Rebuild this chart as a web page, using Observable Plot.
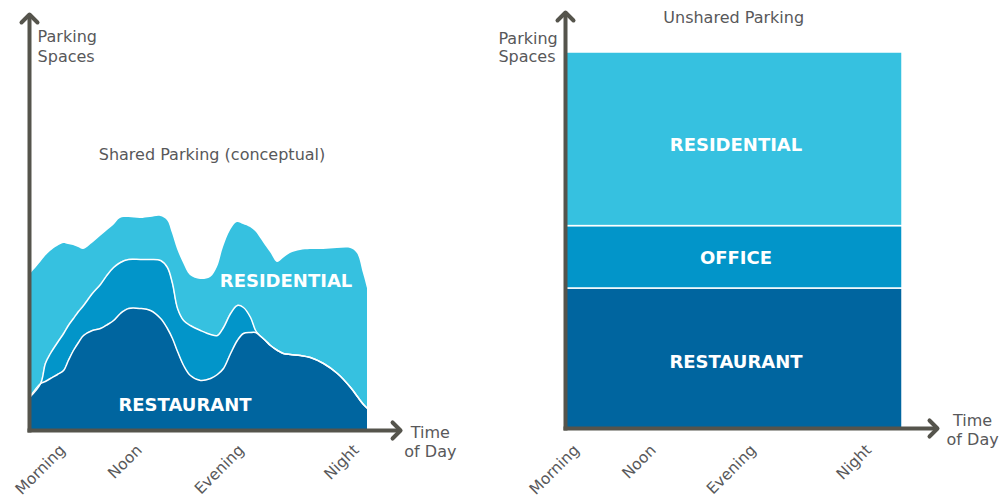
<!DOCTYPE html>
<html><head><meta charset="utf-8">
<script src="https://cdn.jsdelivr.net/npm/d3@7"></script>
<script src="https://cdn.jsdelivr.net/npm/@observablehq/plot@0.6"></script>
<style>
body{margin:0;background:#fff;}
#wrap{display:flex;width:999px;height:499px;overflow:hidden;}
</style></head><body><div id="wrap"></div>
<script>
const uses = ["Restaurant", "Office", "Residential"];
const useColors = ["#00659f", "#0295c9", "#36c1e0"];

// Shared parking (conceptual): time index 0..100, spaces per use
const times = [0, 3.3, 4.7, 6.2, 8.3, 10.1, 11.5, 13.0, 14.5, 16.0, 18.6, 21.0, 23.1, 24.9, 26.9, 29.3, 32.8, 35.8, 38.8, 40.8, 42.3, 43.8, 45.6, 47.6, 50.6, 53.6, 55.6, 57.4, 59.5, 61.5, 63.3, 65.4, 66.9, 67.8, 69.8, 71.3, 73.4, 75.1, 77.2, 80.2, 83.1, 87.0, 91.1, 95.0, 97.0, 98.8, 100];
const restaurant = [8.25, 11.75, 12.25, 13, 14, 15, 17.5, 20, 22, 23.75, 25, 25.5, 26.5, 27.5, 29.25, 30.5, 30.5, 30, 28, 25.5, 23, 19.75, 16.25, 13.75, 12.5, 13, 14, 15.5, 19.25, 22.5, 24.25, 24.5, 24.5, 24, 22.5, 21.25, 20, 19.25, 19, 18.75, 18.25, 16.75, 14.25, 10.75, 8.5, 6.5, 5.5];
const office = [0, 0, 4.5, 6.25, 8, 9.25, 8.75, 8, 7.75, 7.5, 9.25, 11, 12.5, 13.25, 12.75, 12.25, 12.25, 12.75, 14.5, 15.25, 13.75, 10.75, 11.25, 12.5, 12.5, 11, 9.75, 10.25, 10, 8.75, 6.5, 3.75, 0.5, 0, 0, 0, 0, 0, 0, 0, 0, 0, 0, 0, 0, 0, 0];
const residential = [30.5, 30.25, 26.75, 25.5, 24, 22.5, 20.25, 18.25, 16, 14, 12.5, 12, 11, 10.5, 11, 10.5, 10.25, 10.5, 11, 11.75, 12.5, 14.75, 14.25, 12.5, 12.75, 14.25, 17, 20, 20.75, 20.75, 20.75, 22.5, 24.75, 24.75, 23.75, 23.25, 22, 23.75, 25.25, 26.25, 27, 28.5, 31.25, 34.75, 35.75, 32.75, 30];

// Unshared parking: constant spaces per use, and label heights
const unsharedSpaces = [35, 15.6, 43.4];
const unsharedLabelY = [16.5, 42.5, 70.75];

// Tick labels
const timeTicks = ["Morning", "Noon", "Evening", "Night"];
const sharedTickPos = [9.8, 32.5, 62.7, 96.7];
const unsharedTickPos = [3.3, 26.1, 55.8, 90];

// Axis arrows (data units): origin -> end
const sharedAxes = [[[0, 0], [0, 103]], [[0, 0], [108.6, 0]]];
const unsharedAxes = [[[0, 0], [0, 103]], [[0, 0], [109.2, 0]]];

const shared = [];
[restaurant, office, residential].forEach((arr, i) =>
  arr.forEach((v, j) => shared.push({use: uses[i], time: times[j], spaces: v})));
const unshared = uses.map((u, i) => ({use: u, spaces: unsharedSpaces[i], labelY: unsharedLabelY[i]}));

const gray = "#58585a";
const axisColor = "#55544c";
const style = {fontFamily: "DejaVu Sans", fontSize: "16px", background: "white"};
const axisMarks = (axes) => axes.map(seg => Plot.line(seg, {stroke: axisColor, strokeWidth: 4, markerEnd: "arrow", strokeLinecap: "square"}));

const left = Plot.plot({
  width: 490, height: 499,
  marginLeft: 29, marginRight: 123, marginTop: 30, marginBottom: 69,
  style,
  x: {domain: [0, 100], axis: null},
  y: {domain: [0, 100], axis: null},
  color: {domain: uses, range: useColors},
  marks: [
    Plot.areaY(shared, {x: "time", y: "spaces", z: "use", fill: "use", curve: "catmull-rom"}),
    Plot.lineY(shared.filter(d => d.use !== "Residential"),
      Plot.stackY2({x: "time", y: "spaces", z: "use", stroke: "white", strokeWidth: 1.5, curve: "catmull-rom"})),
    ...axisMarks(sharedAxes),
    Plot.text(["Parking\nSpaces"], {x: 2.4, y: 96.25, text: d => d, textAnchor: "start", lineHeight: 1.22, fill: gray, fontSize: 16}),
    Plot.text(["Shared Parking (conceptual)"], {x: 54, y: 69, text: d => d, fill: gray, fontSize: 16}),
    Plot.text(["Time\nof Day"], {x: 118.6, y: 0, dy: 11, text: d => d, lineHeight: 1.15, fill: gray, fontSize: 16}),
    Plot.text(timeTicks, {x: (d, i) => sharedTickPos[i], y: 0, dy: 17, text: d => d, rotate: -45, textAnchor: "end", fill: gray, fontSize: 15.5}),
    Plot.text(["RESIDENTIAL"], {x: 75.9, y: 37.25, text: d => d, fill: "white", fontWeight: "bold", fontSize: 18}),
    Plot.text(["RESTAURANT"], {x: 46, y: 6.25, text: d => d, fill: "white", fontWeight: "bold", fontSize: 18})
  ]
});

const right = Plot.plot({
  width: 509, height: 499,
  marginLeft: 75, marginRight: 97, marginTop: 28, marginBottom: 71,
  style,
  x: {domain: [0, 100], axis: null},
  y: {domain: [0, 100], axis: null},
  color: {domain: uses, range: useColors},
  marks: [
    Plot.rectY(unshared, Plot.stackY({x1: 0, x2: 100, y: "spaces", fill: "use", stroke: "white", strokeWidth: 1.5})),
    Plot.text(unshared, {x: 50.6, y: "labelY", text: d => d.use.toUpperCase(), fill: "white", fontWeight: "bold", fontSize: 18}),
    ...axisMarks(unsharedAxes),
    Plot.text(["Parking\nSpaces"], {x: -19.9, y: 95.4, text: d => d, textAnchor: "start", lineHeight: 1.18, fill: gray, fontSize: 16}),
    Plot.text(["Unshared Parking"], {x: 49.9, y: 102.75, text: d => d, fill: gray, fontSize: 16}),
    Plot.text(["Time\nof Day"], {x: 120.8, y: 0, dy: 1, text: d => d, lineHeight: 1.15, fill: gray, fontSize: 16}),
    Plot.text(timeTicks, {x: (d, i) => unsharedTickPos[i], y: 0, dy: 19, text: d => d, rotate: -45, textAnchor: "end", fill: gray, fontSize: 15.5})
  ]
});

document.getElementById("wrap").append(left, right);
</script></body></html>
